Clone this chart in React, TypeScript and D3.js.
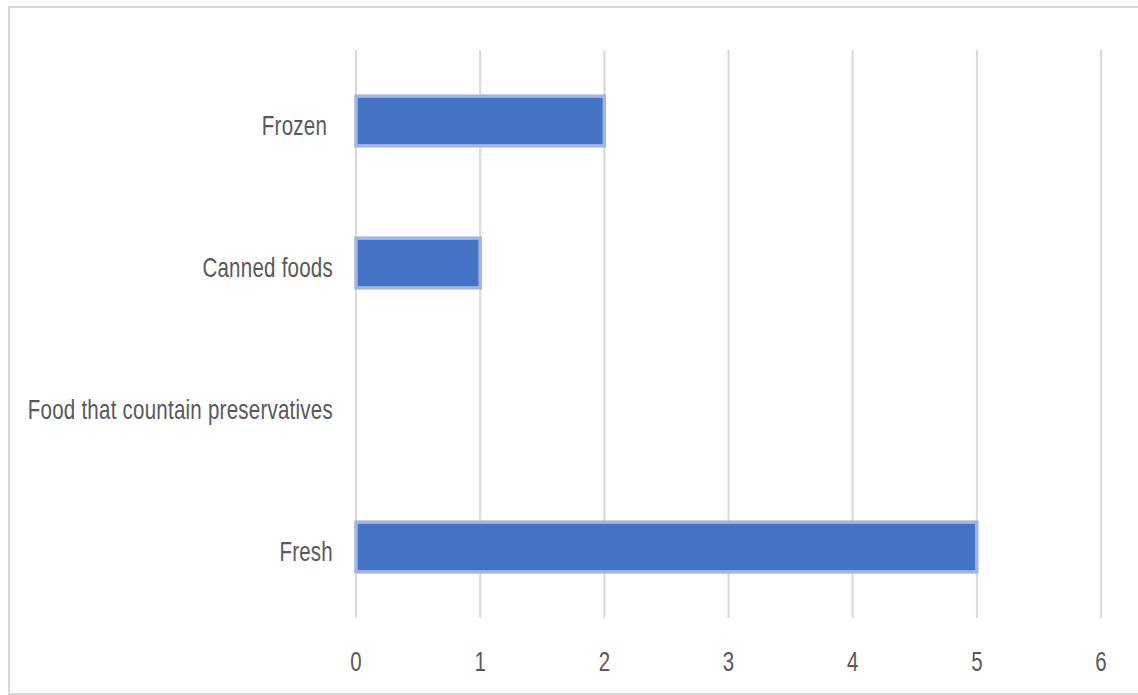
import React from "react";
import * as d3 from "d3";

// Food preference survey counts, listed top to bottom
const categories = ["Frozen ", "Canned foods", "Food that countain preservatives", "Fresh"];
const counts = [2, 1, 0, 5];
const tickValues = [0, 1, 2, 3, 4, 5, 6];

const W = 1138;
const H = 695;
const plot = { left: 356, right: 1101, top: 50, bottom: 618 };

const FONT = "'Liberation Sans', Arial, sans-serif";
const TEXT_COLOR = "#595959";
const GRID = "#d9d9d9";
// glyphs in this chart are drawn tall and narrow
const STRETCH = 1.36;
const FONT_SIZE = 20.5;

export default function App() {
  const x = d3.scaleLinear().domain([0, 6]).range([plot.left, plot.right]);
  const y = d3
    .scaleBand<string>()
    .domain(categories)
    .range([plot.top, plot.bottom])
    .paddingInner(0.65)
    .paddingOuter(0.325);

  return (
    <svg
      width={W}
      height={H}
      style={{ position: "absolute", left: 0, top: 0, background: "#fff" }}
    >
      <rect x={9} y={7} width={1140} height={687} fill="#fff" stroke={GRID} strokeWidth={2} />

      {tickValues.map((t) => (
        <line
          key={"g" + t}
          x1={x(t)}
          x2={x(t)}
          y1={plot.top}
          y2={plot.bottom}
          stroke={GRID}
          strokeWidth={2}
        />
      ))}

      {categories.map((c, i) => {
        const by = y(c)!;
        return (
          <rect
            key={"b" + c}
            x={x(0)}
            y={by}
            width={x(counts[i]) - x(0)}
            height={y.bandwidth()}
            fill="#4472c4"
            stroke={counts[i] > 0 ? "#a2b5e1" : "none"}
            strokeWidth={3.5}
          />
        );
      })}

      {categories.map((c) => {
        const cy = y(c)! + y.bandwidth() / 2;
        return (
          <text
            key={"l" + c}
            transform={`translate(333,${cy + 14}) scale(1,${STRETCH})`}
            textAnchor="end"
            fontFamily={FONT}
            fontSize={FONT_SIZE}
            letterSpacing={0.25}
            fill={TEXT_COLOR}
            style={{ whiteSpace: "pre" }}
          >
            {c}
          </text>
        );
      })}

      {tickValues.map((t) => (
        <text
          key={"t" + t}
          transform={`translate(${x(t)},${671}) scale(1,${STRETCH})`}
          textAnchor="middle"
          fontFamily={FONT}
          fontSize={FONT_SIZE}
          fill={TEXT_COLOR}
        >
          {t}
        </text>
      ))}
    </svg>
  );
}
